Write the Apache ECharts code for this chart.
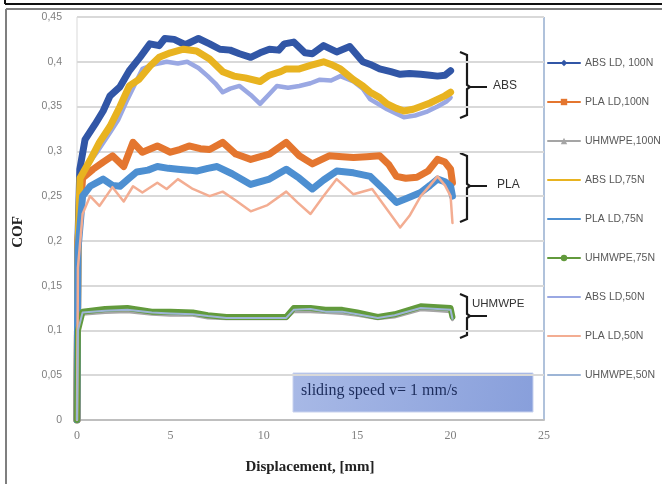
<!DOCTYPE html>
<html><head><meta charset="utf-8">
<script src="https://cdn.jsdelivr.net/npm/echarts@6/dist/echarts.min.js"></script>
<style>html,body{margin:0;padding:0;background:#fff}#c{width:662px;height:484px}</style>
</head><body><div id="c"></div>
<script>
const seriesNames = ['ABS LD, 100N','PLA LD,100N','UHMWPE,100N','ABS LD,75N','PLA LD,75N','UHMWPE,75N','ABS LD,50N','PLA LD,50N','UHMWPE,50N'];
const yTicks = ['0','0,05','0,1','0,15','0,2','0,25','0,3','0,35','0,4','0,45'];
const xTicks = ['0','5','10','15','20','25'];

const abs100X = [0,0.05,0.15,0.43,0.96,1.4,1.77,2.3,2.8,3.37,3.9,4.4,4.7,5.2,5.8,6.5,7.1,7.65,8.2,8.7,9.3,9.8,10.3,10.8,11.1,11.6,12.2,12.6,13.2,13.9,14.6,15.3,15.7,16.2,16.8,17.3,17.8,18.4,18.9,19.3,19.7,20.0];
const abs100Y = [0,0.2,0.28,0.313,0.33,0.345,0.362,0.372,0.39,0.405,0.42,0.418,0.426,0.425,0.419,0.426,0.42,0.414,0.413,0.409,0.405,0.41,0.414,0.413,0.42,0.422,0.41,0.409,0.418,0.411,0.417,0.40,0.397,0.392,0.389,0.386,0.387,0.386,0.385,0.384,0.385,0.39];

const pla100X = [0,0.05,0.3,0.86,1.4,1.9,2.5,3.0,3.5,4.3,5.0,5.5,6.0,6.6,7.1,7.8,8.5,9.3,10.3,11.2,11.9,12.6,13.5,14.2,14.8,15.5,16.2,16.7,17.1,17.6,18.2,18.8,19.3,19.7,20.0,20.1];
const pla100Y = [0,0.2,0.27,0.28,0.288,0.295,0.283,0.31,0.299,0.306,0.299,0.302,0.306,0.303,0.302,0.31,0.297,0.291,0.297,0.31,0.295,0.286,0.295,0.294,0.293,0.294,0.295,0.285,0.272,0.27,0.271,0.278,0.291,0.288,0.28,0.265];

const uhmwX = [0,0.05,0.3,1.5,2.7,4.0,5.0,6.2,7.0,8.0,9.5,11.2,11.6,12.5,13.3,14.2,15.0,16.1,17.0,18.4,19.3,20.0,20.1];
const uhmw100Y = [0,0.1,0.118,0.12,0.121,0.118,0.117,0.117,0.114,0.113,0.113,0.113,0.121,0.121,0.12,0.119,0.117,0.113,0.115,0.123,0.122,0.121,0.112];

const abs75X = [0,0.05,0.16,0.7,1.2,1.77,2.3,2.8,3.3,3.9,4.4,5.0,5.7,6.4,7.1,7.8,8.4,9.0,9.8,10.3,10.9,11.2,11.9,12.5,13.2,13.6,14.1,14.8,15.3,15.7,16.2,16.6,17.1,17.5,18.0,18.4,18.9,19.3,19.7,20.0];
const abs75Y = [0,0.19,0.27,0.29,0.31,0.328,0.35,0.373,0.38,0.395,0.405,0.41,0.414,0.412,0.403,0.389,0.384,0.382,0.378,0.385,0.389,0.392,0.392,0.396,0.40,0.397,0.392,0.38,0.373,0.366,0.36,0.353,0.348,0.345,0.347,0.35,0.354,0.358,0.362,0.366];

const pla75X = [0,0.05,0.3,0.7,1.4,1.9,2.3,2.8,3.2,3.8,4.3,4.9,5.4,6.0,6.4,7.0,7.5,8.3,9.3,10.3,11.2,11.9,12.6,13.2,13.9,14.8,15.7,16.4,17.1,17.7,18.4,18.9,19.3,19.7,20.0,20.1];
const pla75Y = [0,0.19,0.25,0.261,0.269,0.262,0.261,0.27,0.277,0.279,0.283,0.281,0.28,0.279,0.278,0.281,0.283,0.275,0.263,0.269,0.28,0.27,0.258,0.268,0.278,0.276,0.272,0.258,0.243,0.248,0.254,0.262,0.269,0.266,0.261,0.25];

const uhmw75Y = [0,0.1,0.121,0.124,0.125,0.121,0.121,0.12,0.117,0.115,0.115,0.115,0.125,0.125,0.123,0.123,0.12,0.115,0.118,0.127,0.126,0.125,0.115];

const abs50X = [0,0.05,0.2,0.5,1.1,1.77,2.2,2.7,3.1,3.5,4.1,4.8,5.4,5.9,6.5,7.0,7.4,7.8,8.2,8.7,9.3,9.8,10.3,10.7,11.3,11.9,12.5,13.0,13.6,14.1,14.8,15.3,15.7,16.2,16.6,17.1,17.5,18.1,18.7,19.3,19.8,20.0];
const abs50Y = [0,0.18,0.26,0.283,0.3,0.321,0.335,0.358,0.375,0.392,0.397,0.40,0.398,0.40,0.393,0.384,0.376,0.366,0.37,0.373,0.363,0.353,0.364,0.373,0.371,0.373,0.376,0.38,0.379,0.384,0.378,0.37,0.358,0.352,0.347,0.342,0.338,0.34,0.344,0.35,0.356,0.36];

const pla50X = [0,0.05,0.3,0.7,1.2,1.9,2.5,3.0,3.5,4.3,4.8,5.4,6.2,7.1,7.8,8.5,9.3,10.2,11.2,11.8,12.5,13.2,13.9,14.8,15.8,16.6,17.3,17.8,18.4,18.9,19.3,19.7,20.0,20.1];
const pla50Y = [0,0.17,0.23,0.25,0.239,0.26,0.244,0.261,0.254,0.265,0.258,0.269,0.258,0.25,0.255,0.245,0.233,0.24,0.255,0.243,0.23,0.25,0.269,0.252,0.258,0.235,0.215,0.228,0.25,0.262,0.272,0.262,0.25,0.22];

const uhmw50Y = [0,0.1,0.12,0.122,0.123,0.12,0.119,0.118,0.116,0.114,0.114,0.114,0.123,0.124,0.121,0.121,0.118,0.114,0.117,0.125,0.124,0.123,0.113];

const groupLabels = ['ABS','PLA','UHMWPE'];
const noteText = 'sliding speed v= 1 mm/s';

function zip(xs, ys){ return xs.map((x,i)=>[x, ys[i]]); }

const seriesData = [
  zip(abs100X, abs100Y), zip(pla100X, pla100Y), zip(uhmwX, uhmw100Y),
  zip(abs75X, abs75Y), zip(pla75X, pla75Y), zip(uhmwX, uhmw75Y),
  zip(abs50X, abs50Y), zip(pla50X, pla50Y), zip(uhmwX, uhmw50Y)
];
const colors = ['#3156a6','#e4762f','#a5a5a5','#e8b320','#4d8fd1','#629a3c','#9aa8e3','#f3ad92','#9db5d6'];
const widths = [7,7,3,7,7,6,4.5,2.5,2];
const symbols = ['diamond','rect','triangle','circle','circle','circle','circle','circle','circle'];
const hasMarker = [true,true,true,false,false,true,false,false,false];

const chart = echarts.init(document.getElementById('c'), null, {renderer:'canvas'});

const series = seriesNames.map((n,i)=>({
  name:n, type:'line', data:seriesData[i], symbol:symbols[i], symbolSize:6, showSymbol:false,
  lineStyle:{color:colors[i], width:widths[i], join:'round', cap:'round'},
  itemStyle:{color:colors[i]}, smooth:false, silent:true, animation:false
}));
series[6].z = 1; series[3].z = 3;

function bracket(x, y1, y2, ym){
  return {type:'polyline', shape:{points:[[x-7,y1],[x,y1+3],[x,ym-2],[x+3,ym],[x,ym+2],[x,y2-3],[x-7,y2]]},
    style:{stroke:'#1a1a1a', lineWidth:2.2, fill:null}};
}
function tip(x1,x2,y){ return {type:'line', shape:{x1:x1,y1:y,x2:x2,y2:y}, style:{stroke:'#1a1a1a', lineWidth:2}}; }

chart.setOption({
  backgroundColor:'#fff',
  animation:false,
  grid:{left:77, right:118, top:17, bottom:64, show:true, borderColor:'#d9d9d9', borderWidth:1},
  xAxis:{type:'value', min:0, max:25, interval:5,
    axisLine:{show:true, lineStyle:{color:'#bfbfbf', width:2}}, axisTick:{show:false},
    splitLine:{show:false},
    axisLabel:{color:'#7f7f7f', fontFamily:'Liberation Serif', fontSize:12, margin:10,
      formatter:(v)=>xTicks[Math.round(v/5)]}},
  yAxis:{type:'value', min:0, max:0.45, interval:0.05,
    axisLine:{show:false}, axisTick:{show:false},
    splitLine:{show:true, lineStyle:{color:'#d9d9d9', width:2}},
    axisLabel:{color:'#7f7f7f', fontFamily:'Liberation Sans', fontSize:10.5, margin:15,
      formatter:(v)=>yTicks[Math.round(v/0.05)]}},
  legend:{orient:'vertical', left:542, top:52, itemWidth:32, itemHeight:8, itemGap:27,
    textStyle:{color:'#595959', fontSize:10.5, fontFamily:'Liberation Sans', lineHeight:12},
    lineStyle:{width:2}, selectedMode:false,
    data:seriesNames.map((n,i)=>hasMarker[i] ? {name:n} : {name:n, itemStyle:{opacity:0}})},
  series:series,
  graphic:[
    {type:'line', shape:{x1:5,y1:4,x2:662,y2:4}, style:{stroke:'#111', lineWidth:2}},
    {type:'line', shape:{x1:5,y1:0,x2:5,y2:4}, style:{stroke:'#111', lineWidth:2}},
    {type:'line', shape:{x1:6,y1:9,x2:662,y2:9}, style:{stroke:'#7f7f7f', lineWidth:2}},
    {type:'line', shape:{x1:6,y1:9,x2:6,y2:484}, style:{stroke:'#7f7f7f', lineWidth:2}},
    {type:'line', shape:{x1:544,y1:17,x2:544,y2:420}, style:{stroke:'#9db5d6', lineWidth:1.5}},
    bracket(467,52,118,87), tip(470,487,87),
    {type:'text', left:493, top:80, style:{text:groupLabels[0], fill:'#333', fontSize:12, fontFamily:'Liberation Sans'}},
    bracket(467,153,222,186), tip(470,487,186),
    {type:'text', left:497, top:179, style:{text:groupLabels[1], fill:'#333', fontSize:12, fontFamily:'Liberation Sans'}},
    bracket(467,294,338,316), tip(470,487,316),
    {type:'text', left:472, top:298, style:{text:groupLabels[2], fill:'#333', fontSize:11.5, fontFamily:'Liberation Sans'}},
    {type:'rect', shape:{x:293,y:373,width:240,height:39},
      style:{fill:new echarts.graphic.LinearGradient(0,0,1,1,[{offset:0,color:'#a8b9e6'},{offset:1,color:'#889fdb'}]), stroke:'#c8d2ee', lineWidth:1}},
    {type:'text', left:301, top:383, style:{text:noteText, fill:'#1c2c5c', fontSize:16, fontFamily:'Liberation Serif'}},
    {type:'text', x:18, y:232, rotation:Math.PI/2, style:{text:'COF', fill:'#222', fontSize:15, fontWeight:'bold', fontFamily:'Liberation Serif', align:'center', verticalAlign:'middle'}},
    {type:'text', x:310, y:467, style:{text:'Displacement, [mm]', fill:'#222', fontSize:15, fontWeight:'bold', fontFamily:'Liberation Serif', align:'center', verticalAlign:'middle'}}
  ]
});
</script></body></html>
